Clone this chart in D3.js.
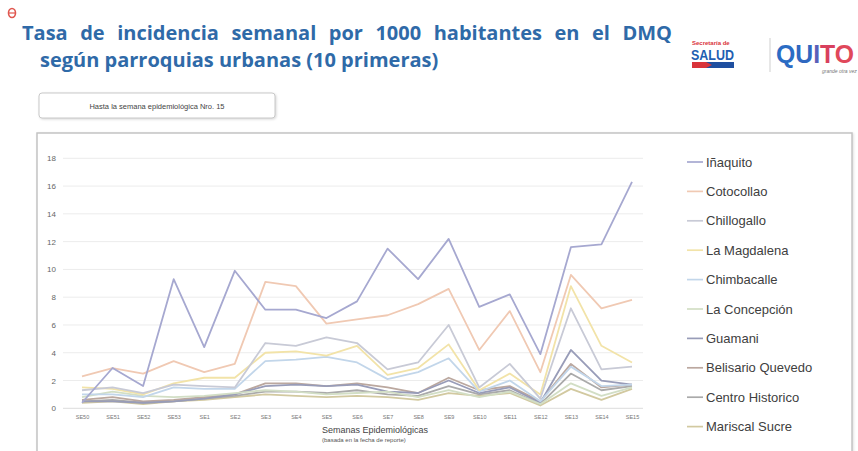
<!DOCTYPE html>
<html>
<head>
<meta charset="utf-8">
<script src="https://cdn.jsdelivr.net/npm/d3@7"></script>
<style>
  html, body { margin: 0; padding: 0; background: #fff; }
  svg { display: block; font-family: "Liberation Sans", Arial, sans-serif; }
</style>
</head>
<body>
<svg width="858" height="451"></svg>
<script>
// weeks (x axis)
const weeks = ["SE50","SE51","SE52","SE53","SE1","SE2","SE3","SE4","SE5","SE6","SE7","SE8","SE9","SE10","SE11","SE12","SE13","SE14","SE15"];
const yTicks = [0, 2, 4, 6, 8, 10, 12, 14, 16, 18];

// parishes, in legend order
const parishes = ["Iñaquito","Cotocollao","Chillogallo","La Magdalena","Chimbacalle","La Concepción","Guamani","Belisario Quevedo","Centro Historico","Mariscal Sucre"];

const inaquito     = [0.4, 2.9, 1.6, 9.3, 4.4, 9.9, 7.1, 7.1, 6.5, 7.7, 11.5, 9.3, 12.2, 7.3, 8.2, 3.9, 11.6, 11.8, 16.3];
const cotocollao   = [2.3, 2.9, 2.5, 3.4, 2.6, 3.2, 9.1, 8.8, 6.1, 6.4, 6.7, 7.5, 8.6, 4.2, 7.0, 2.6, 9.6, 7.2, 7.8];
const chillogallo  = [1.3, 1.5, 1.1, 1.7, 1.6, 1.5, 4.7, 4.5, 5.1, 4.7, 2.8, 3.3, 6.0, 1.5, 3.2, 0.7, 7.2, 2.8, 3.0];
const laMagdalena  = [1.5, 1.4, 1.0, 1.8, 2.2, 2.2, 4.0, 4.1, 3.8, 4.5, 2.4, 2.9, 4.6, 1.3, 2.5, 1.0, 8.8, 4.5, 3.3];
const chimbacalle  = [1.0, 1.0, 0.8, 1.5, 1.4, 1.4, 3.4, 3.5, 3.7, 3.3, 2.1, 2.6, 3.6, 1.2, 2.0, 0.5, 3.0, 1.6, 1.7];
const laConcepcion = [0.8, 1.2, 0.9, 0.8, 0.9, 1.1, 1.3, 1.2, 1.0, 1.1, 1.2, 0.8, 1.3, 0.8, 1.2, 0.3, 1.8, 0.9, 1.5];
const guamani      = [0.5, 0.5, 0.4, 0.5, 0.7, 1.0, 1.6, 1.7, 1.6, 1.7, 1.2, 1.1, 2.0, 1.1, 1.5, 0.4, 4.2, 2.0, 1.7];
const belisario    = [0.6, 0.8, 0.5, 0.6, 0.8, 1.0, 1.8, 1.8, 1.6, 1.8, 1.5, 1.1, 2.2, 1.3, 1.6, 0.5, 3.2, 1.5, 1.7];
const centro       = [0.5, 0.6, 0.4, 0.5, 0.7, 0.9, 1.2, 1.2, 1.1, 1.3, 1.0, 0.9, 1.6, 1.0, 1.3, 0.3, 2.5, 1.3, 1.6];
const mariscal     = [0.4, 0.5, 0.3, 0.5, 0.6, 0.8, 1.0, 0.9, 0.8, 0.9, 0.8, 0.6, 1.1, 0.9, 1.1, 0.2, 1.4, 0.6, 1.4];

const seriesValues = [inaquito, cotocollao, chillogallo, laMagdalena, chimbacalle, laConcepcion, guamani, belisario, centro, mariscal];
const colors = ["#a6a8d0", "#f0c9b3", "#c8cad6", "#f2e3a8", "#c2d6ea", "#d2dec5", "#989cb8", "#bba89f", "#aaaaaa", "#d2c9a0"];

const svg = d3.select("svg");

// header
svg.append("ellipse")
    .attr("cx", 12).attr("cy", 13).attr("rx", 3.5).attr("ry", 4.5)
    .attr("fill", "none").attr("stroke", "#e0574f").attr("stroke-width", 1.6);
svg.append("line")
    .attr("x1", 9).attr("x2", 15).attr("y1", 13).attr("y2", 13)
    .attr("stroke", "#e0574f").attr("stroke-width", 1.2);

const titleColor = "#2f6aa8";
const title1 = svg.append("text")
    .attr("x", 22).attr("y", 40)
    .style("font-family", "'Open Sans', sans-serif")
    .style("font-weight", "bold").style("font-size", "20px")
    .attr("fill", titleColor)
    .text("Tasa de incidencia semanal por 1000 habitantes en el DMQ");
// justified line: stretch the gaps between words to reach the right edge
const natural = title1.node().getComputedTextLength();
title1.style("word-spacing", Math.max(0, (650 - natural) / 9) + "px");

svg.append("text")
    .attr("x", 40).attr("y", 67)
    .style("font-family", "'Open Sans', sans-serif")
    .style("font-weight", "bold").style("font-size", "20px")
    .attr("fill", titleColor)
    .text("según parroquias urbanas (10 primeras)");

// logos
const logo = svg.append("g");
logo.append("text").attr("x", 692).attr("y", 45)
    .style("font-size", "6px").style("font-weight", "bold").attr("fill", "#d9333a")
    .text("Secretaría de");
logo.append("text").attr("x", 691).attr("y", 60)
    .attr("textLength", 43).attr("lengthAdjust", "spacingAndGlyphs")
    .style("font-size", "15px").style("font-weight", "bold").attr("fill", "#1f5fb2")
    .text("SALUD");
logo.append("rect").attr("x", 692).attr("y", 62).attr("width", 42).attr("height", 6).attr("fill", "#1f4fa0");
logo.append("path").attr("d", "M692,62 L706,62 L712,65 L706,68 L692,68 Z").attr("fill", "#d9333a");
logo.append("line").attr("x1", 770).attr("x2", 770).attr("y1", 38).attr("y2", 72)
    .attr("stroke", "#cfcfcf").attr("stroke-width", 1);
const quito = logo.append("text").attr("x", 776).attr("y", 63)
    .attr("textLength", 78).attr("lengthAdjust", "spacingAndGlyphs")
    .style("font-size", "25px").style("font-weight", "bold");
[["Q", "#2b6cc4"], ["U", "#2f68c0"], ["I", "#5a5fb8"], ["T", "#d8405e"], ["O", "#e0485a"]].forEach(([c, col]) => {
    quito.append("tspan").attr("fill", col).text(c);
});
logo.append("text").attr("x", 822).attr("y", 73)
    .style("font-size", "5px").style("font-style", "italic").attr("fill", "#777")
    .text("grande otra vez");

// note box
svg.append("rect")
    .attr("x", 39).attr("y", 93).attr("width", 236).attr("height", 25).attr("rx", 3)
    .attr("fill", "#fff").attr("stroke", "#c9c9c9").attr("stroke-width", 1)
    .style("filter", "drop-shadow(1px 1px 1px rgba(0,0,0,0.15))");
svg.append("text")
    .attr("x", 157).attr("y", 109).attr("text-anchor", "middle")
    .style("font-size", "7.5px").attr("fill", "#444")
    .text("Hasta la semana epidemiológica Nro. 15");

// chart frame
svg.append("rect")
    .attr("x", 37).attr("y", 133).attr("width", 815).attr("height", 330)
    .attr("fill", "#fff").attr("stroke", "#c4c4c4").attr("stroke-width", 1.5)
    .style("filter", "drop-shadow(1px 1px 1px rgba(0,0,0,0.12))");

const x = d3.scalePoint().domain(weeks).range([82, 632]);
const y = d3.scaleLinear().domain([0, 18]).range([408.3, 158.3]);

// gridlines
svg.append("g")
    .selectAll("line")
    .data(yTicks)
    .join("line")
    .attr("x1", 63).attr("x2", 643)
    .attr("y1", d => y(d)).attr("y2", d => y(d))
    .attr("stroke", d => d === 0 ? "#dcdcdc" : "#ececec")
    .attr("stroke-width", 1);

// y axis
const yAxis = svg.append("g")
    .attr("transform", "translate(58,0)")
    .call(d3.axisLeft(y).tickValues(yTicks).tickSize(0).tickPadding(2));
yAxis.select(".domain").remove();
yAxis.selectAll("text")
    .style("font-size", "8px").attr("fill", "#666");

// x axis
const xAxis = svg.append("g")
    .attr("transform", "translate(0,413)")
    .call(d3.axisBottom(x).tickSize(0).tickPadding(2));
xAxis.select(".domain").remove();
xAxis.selectAll("text")
    .style("font-size", "5.5px").attr("fill", "#777");

svg.append("text")
    .attr("x", 322).attr("y", 433)
    .style("font-size", "9px").attr("fill", "#444")
    .text("Semanas Epidemiológicas");
svg.append("text")
    .attr("x", 322).attr("y", 442)
    .style("font-size", "6px").attr("fill", "#555")
    .text("(basada en la fecha de reporte)");

// lines
const line = d3.line()
    .x((d, i) => x(weeks[i]))
    .y(d => y(d));

svg.append("g")
    .selectAll("path")
    .data(seriesValues.map((v, k) => ({ v, k })).reverse())
    .join("path")
    .attr("d", d => line(d.v))
    .attr("fill", "none")
    .attr("stroke", d => colors[d.k])
    .attr("stroke-width", 1.8)
    .attr("stroke-linejoin", "round");

// legend
const legend = svg.append("g")
    .selectAll("g")
    .data(parishes)
    .join("g")
    .attr("transform", (d, i) => `translate(687,${162 + i * 29.4})`);
legend.append("line")
    .attr("x1", 0).attr("x2", 16)
    .attr("stroke", (d, i) => colors[i]).attr("stroke-width", 1.7);
legend.append("text")
    .attr("x", 19).attr("y", 4.5)
    .style("font-size", "13px").attr("fill", "#404040")
    .text(d => d);
</script>
</body>
</html>
